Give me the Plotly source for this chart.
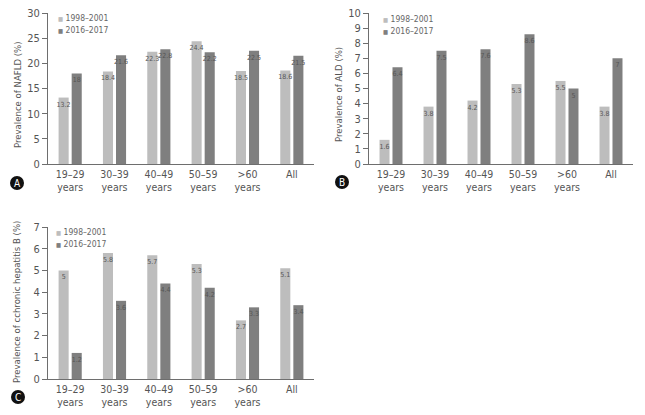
import plotly.graph_objects as go

categories = ["19–29<br>years", "30–39<br>years", "40–49<br>years", "50–59<br>years", ">60<br>years", "All"]
series_names = ["1998–2001", "2016–2017"]

nafld_1998 = [13.2, 18.4, 22.3, 24.4, 18.5, 18.6]
nafld_2016 = [18, 21.6, 22.8, 22.2, 22.5, 21.5]
ald_1998 = [1.6, 3.8, 4.2, 5.3, 5.5, 3.8]
ald_2016 = [6.4, 7.5, 7.6, 8.6, 5, 7]
hbv_1998 = [5, 5.8, 5.7, 5.3, 2.7, 5.1]
hbv_2016 = [1.2, 3.6, 4.4, 4.2, 3.3, 3.4]

panels = [
    dict(a=nafld_1998, b=nafld_2016, ymax=30, dtick=5, title="Prevalence of NAFLD (%)", letter="A"),
    dict(a=ald_1998, b=ald_2016, ymax=10, dtick=1, title="Prevalence of ALD (%)", letter="B"),
    dict(a=hbv_1998, b=hbv_2016, ymax=7, dtick=1, title="Prevalence of cchronic hepatitis B (%)", letter="C"),
]

W, H = 645, 415
def px(x):
    return x / W
def py(y):
    return 1 - y / H

# pixel boxes: (x0, x1, y_top, y_bottom)
boxes = [(48, 314, 13, 164), (369, 633, 13, 164), (48, 314, 227, 379)]
legend_pos = [(56, 18), (381, 19), (54, 232)]
letter_pos = [(17, 183), (342, 182), (18, 397)]
title_x = [18, 339, 16]
title_y = [95, 95, 302]

LIGHT = "#bdbdbd"
DARK = "#7f7f7f"
AXIS = "#6e6e6e"
FONT = "DejaVu Sans Condensed, Liberation Sans Narrow, sans-serif"

fig = go.Figure()
shapes = []
annotations = []

for i, p in enumerate(panels):
    xa = "x" if i == 0 else f"x{i+1}"
    ya = "y" if i == 0 else f"y{i+1}"
    for vals, col, name in [(p["a"], LIGHT, series_names[0]), (p["b"], DARK, series_names[1])]:
        fig.add_trace(go.Bar(
            x=categories, y=vals, name=name, marker=dict(color=col, line=dict(width=0)),
            text=[f"{v:g}" for v in vals], textposition="inside", insidetextanchor="end",
            textangle=0, constraintext="none",
            insidetextfont=dict(size=7, color="#555555", family=FONT),
            xaxis=xa, yaxis=ya, showlegend=False, hoverinfo="skip",
        ))
    x0, x1, yt, yb = boxes[i]
    xk = "xaxis" if i == 0 else f"xaxis{i+1}"
    yk = "yaxis" if i == 0 else f"yaxis{i+1}"
    fig.layout[xk] = dict(domain=[px(x0), px(x1)], anchor=ya, showline=True, linecolor=AXIS,
                          linewidth=1, ticks="", showgrid=False, automargin=False,
                          tickfont=dict(size=10.5, color="#555555", family=FONT))
    fig.layout[yk] = dict(domain=[py(yb), py(yt)], anchor=xa, range=[0, p["ymax"]], dtick=p["dtick"],
                          showline=True, linecolor=AXIS, linewidth=1, ticks="outside", ticklen=5,
                          tickcolor=AXIS, showgrid=False, zeroline=False, automargin=False,
                          tickfont=dict(size=11, color="#555555", family=FONT))
    annotations.append(dict(x=px(title_x[i]), y=py(title_y[i]), xref="paper", yref="paper",
                            xanchor="center", yanchor="middle",
                            text=p["title"], textangle=-90, showarrow=False,
                            font=dict(size=9.5, color="#555555", family=FONT)))
    lx, ly = legend_pos[i]
    for j, (col, name) in enumerate([(LIGHT, series_names[0]), (DARK, series_names[1])]):
        annotations.append(dict(x=px(lx), y=py(ly + 12 * j), xref="paper", yref="paper",
                                xanchor="left", yanchor="middle", showarrow=False,
                                text=f"<span style='color:{col};font-size:6px'>■</span> {name}",
                                font=dict(size=8.5, color="#666666", family=FONT)))
    cx, cy = letter_pos[i]
    r = 7
    shapes.append(dict(type="circle", xref="paper", yref="paper",
                       x0=px(cx - r), x1=px(cx + r), y0=py(cy + r), y1=py(cy - r),
                       fillcolor="#111111", line=dict(width=0)))
    annotations.append(dict(x=px(cx), y=py(cy), xref="paper", yref="paper", text=p["letter"],
                            showarrow=False, xanchor="center", yanchor="middle",
                            font=dict(size=10, color="white", family=FONT)))

fig.update_layout(
    template="none",
    width=W, height=H, margin=dict(l=0, r=0, t=0, b=0, autoexpand=False),
    paper_bgcolor="white", plot_bgcolor="white",
    barmode="group", bargap=0.41, bargroupgap=0.23,
    shapes=shapes, annotations=annotations, showlegend=False,
    font=dict(family=FONT),
)

fig.write_html("out.html", config={"displayModeBar": False},
               post_script="document.body.style.margin='0px';document.body.style.overflow='hidden';")
